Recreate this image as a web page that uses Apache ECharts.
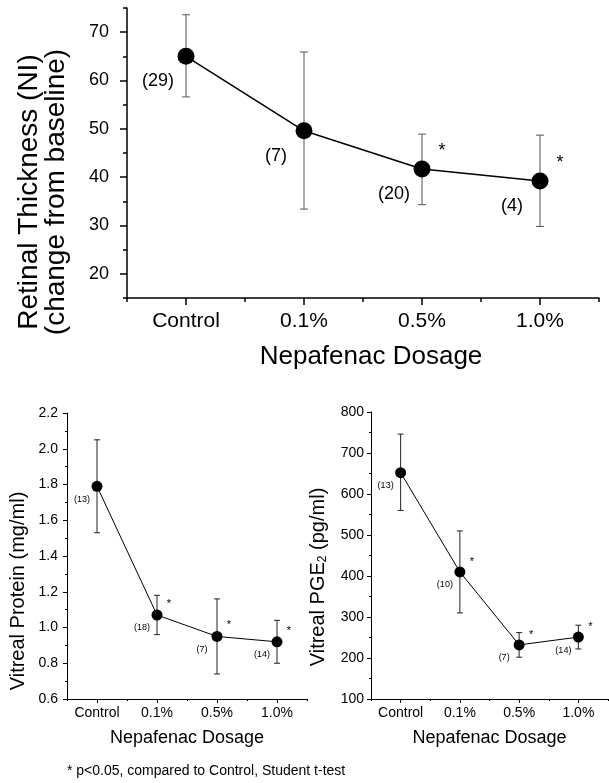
<!DOCTYPE html>
<html>
<head>
<meta charset="utf-8">
<script src="https://cdn.jsdelivr.net/npm/echarts@6/dist/echarts.min.js"></script>
<style>
html, body { margin: 0; padding: 0; background: #fff; }
#chart { width: 609px; height: 783px; }
</style>
</head>
<body>
<div id="chart"></div>
<script>
// categories
var dosages = ['Control', '0.1%', '0.5%', '1.0%']

// retinal thickness (top panel)
var thickMean = [65.0, 49.6, 41.7, 39.2]
var thickHigh = [73.6, 65.9, 48.9, 48.7]
var thickLow = [56.6, 33.4, 34.3, 29.8]
var thickN = [29, 7, 20, 4]
var thickSig = [false, false, true, true]
var thickTicks = [20, 30, 40, 50, 60, 70]

// vitreal protein (bottom left)
var proteinMean = [1.79, 1.07, 0.95, 0.92]
var proteinHigh = [2.05, 1.18, 1.16, 1.04]
var proteinLow = [1.53, 0.96, 0.74, 0.80]
var proteinN = [13, 18, 7, 14]
var proteinSig = [false, true, true, true]

// vitreal PGE2 (bottom right)
var pgeMean = [652, 410, 232, 251]
var pgeHigh = [746, 510, 262, 280]
var pgeLow = [560, 310, 202, 222]
var pgeN = [13, 10, 7, 14]
var pgeSig = [false, true, true, true]

var FONT = 'Liberation Sans, Arial, Helvetica, sans-serif'

var xAxes = [], yAxes = [], series = []

function addPanel(p){ // one panel = grid + 2 x axes + 2 y axes + 3 series
	var xi = xAxes.length, yi = yAxes.length
	xAxes.push({
		type: 'category', gridIndex: p.grid, data: dosages, boundaryGap: true,
		axisLine: { show: true, lineStyle: { color: '#000', width: p.axisW } },
		axisTick: { show: true, alignWithLabel: true, length: p.majorTick, lineStyle: { color: '#000', width: p.axisW } },
		axisLabel: { show: true, color: '#000', fontFamily: FONT, fontSize: p.xFont, margin: p.xMargin },
		splitLine: { show: false },
		name: 'Nepafenac Dosage', nameLocation: 'middle', nameGap: p.nameGap,
		nameTextStyle: { color: '#000', fontFamily: FONT, fontSize: p.nameFont, padding: p.namePad }
	})
	xAxes.push({ // ticks at the category boundaries
		type: 'category', gridIndex: p.grid, data: dosages, boundaryGap: true, position: 'bottom',
		axisLine: { show: false },
		axisTick: { show: true, length: p.minorTick, lineStyle: { color: '#000', width: p.axisW } },
		axisLabel: { show: false },
		splitLine: { show: false }
	})
	var yMain = {
		type: 'value', gridIndex: p.grid, min: p.min, max: p.max, interval: p.interval,
		splitLine: { show: false },
		axisLine: { show: true, lineStyle: { color: '#000', width: p.axisW } },
		axisTick: { show: true, length: p.majorTick, lineStyle: { color: '#000', width: p.axisW } },
		axisLabel: { color: '#000', fontFamily: FONT, fontSize: p.yFont, margin: p.yMargin, formatter: p.yFmt },
		minorTick: { show: true, splitNumber: 2, length: p.minorTick, lineStyle: { color: '#000', width: p.axisW } }
	}
	if(p.ticks){
		yMain.axisTick.customValues = p.ticks
		yMain.axisLabel.customValues = p.ticks
		yMain.minorTick = { show: false }
	}
	yAxes.push(yMain)
	yAxes.push({ // minor ticks for the top panel
		type: 'value', gridIndex: p.grid, min: p.min, max: p.max, interval: p.interval,
		position: 'left', splitLine: { show: false },
		axisLine: { show: false }, axisLabel: { show: false },
		axisTick: { show: !!p.ticks, length: p.minorTick, lineStyle: { color: '#000', width: p.axisW } }
	})

	// error bars
	series.push({
		type: 'custom', xAxisIndex: xi, yAxisIndex: yi, z: 1,
		data: dosages.map(function(d, i){ return [i, p.low[i], p.high[i]] }),
		renderItem: function(params, api){
			var x = api.value(0)
			var lo = api.coord([x, api.value(1)])
			var hi = api.coord([x, api.value(2)])
			var st = { stroke: p.errColor, lineWidth: 1 }
			return {
				type: 'group',
				children: [
					{ type: 'line', shape: { x1: lo[0], y1: lo[1], x2: hi[0], y2: hi[1] }, style: st },
					{ type: 'line', shape: { x1: hi[0] - p.cap, y1: hi[1], x2: hi[0] + p.cap, y2: hi[1] }, style: st },
					{ type: 'line', shape: { x1: lo[0] - p.cap, y1: lo[1], x2: lo[0] + p.cap, y2: lo[1] }, style: st }
				]
			}
		}
	})
	// means + n labels
	series.push({
		type: 'line', xAxisIndex: xi, yAxisIndex: yi, z: 3,
		data: p.mean, symbol: 'circle', symbolSize: p.dot,
		itemStyle: { color: '#000' },
		lineStyle: { color: '#000', width: p.lineW },
		label: {
			show: true, position: 'inside', offset: p.nOff,
			color: '#000', fontFamily: FONT, fontSize: p.nFont,
			formatter: function(params){ return '(' + p.n[params.dataIndex] + ')' }
		}
	})
	// significance stars
	series.push({
		type: 'custom', xAxisIndex: xi, yAxisIndex: yi, z: 4,
		data: p.mean.map(function(v, i){ return [i, v, p.sig[i] ? 1 : 0] }),
		renderItem: function(params, api){
			if(!api.value(2)) return
			var pt = api.coord([api.value(0), api.value(1)])
			return {
				type: 'text',
				x: pt[0] + p.sOff[0], y: pt[1] + p.sOff[1],
				style: {
					text: '*', fill: '#000', font: p.sFont + 'px ' + FONT,
					textAlign: 'center', textVerticalAlign: 'middle', align: 'center', verticalAlign: 'middle'
				}
			}
		}
	})
}

addPanel({
	grid: 0, min: 15, max: 75, interval: 5, ticks: thickTicks,
	mean: thickMean, high: thickHigh, low: thickLow, n: thickN, sig: thickSig,
	axisW: 1.5, majorTick: 7, minorTick: 4, xFont: 21, yFont: 18, xMargin: 13, yMargin: 18,
	nameGap: 46, nameFont: 26, namePad: [0, 0, 0, 16],
	yFmt: function(v){ return v },
	errColor: '#555', cap: 4, dot: 17, lineW: 1.5,
	nOff: [-28, 25], nFont: 18, sOff: [20, -18], sFont: 18
})
addPanel({
	grid: 1, min: 0.6, max: 2.2, interval: 0.2,
	mean: proteinMean, high: proteinHigh, low: proteinLow, n: proteinN, sig: proteinSig,
	axisW: 1, majorTick: 4, minorTick: 2, xFont: 14, yFont: 14, xMargin: 7, yMargin: 9,
	nameGap: 30, nameFont: 18, namePad: 0,
	yFmt: function(v){ return v.toFixed(1) },
	errColor: '#222', cap: 3, dot: 11, lineW: 1,
	nOff: [-15, 13], nFont: 9, sOff: [12, -11], sFont: 11
})
addPanel({
	grid: 2, min: 100, max: 800, interval: 100,
	mean: pgeMean, high: pgeHigh, low: pgeLow, n: pgeN, sig: pgeSig,
	axisW: 1, majorTick: 4, minorTick: 2, xFont: 14, yFont: 14, xMargin: 7, yMargin: 7,
	nameGap: 30, nameFont: 18, namePad: 0,
	yFmt: function(v){ return v },
	errColor: '#222', cap: 3, dot: 11, lineW: 1,
	nOff: [-15, 13], nFont: 9, sOff: [12, -10], sFont: 11
})

var option = {
	animation: false,
	backgroundColor: '#fff',
	grid: [
		{ left: 127, right: 10, top: 8, bottom: 485 },
		{ left: 67, right: 302, top: 413, bottom: 84 },
		{ left: 371, right: 1, top: 412, bottom: 84 }
	],
	xAxis: xAxes,
	yAxis: yAxes,
	series: series,
	graphic: [
		{
			type: 'text', x: 43, y: 192, rotation: Math.PI / 2,
			style: {
				text: 'Retinal Thickness (NI)\n(change from baseline)',
				font: '28px ' + FONT, fill: '#000', lineHeight: 27,
				textAlign: 'center', textVerticalAlign: 'middle', align: 'center', verticalAlign: 'middle'
			}
		},
		{
			type: 'text', x: 18, y: 591, rotation: Math.PI / 2,
			style: {
				text: 'Vitreal Protein (mg/ml)',
				font: '20px ' + FONT, fill: '#000',
				textAlign: 'center', textVerticalAlign: 'middle', align: 'center', verticalAlign: 'middle'
			}
		},
		{
			type: 'text', x: 318, y: 577, rotation: Math.PI / 2,
			style: {
				text: 'Vitreal PGE{sub|2} (pg/ml)',
				font: '20px ' + FONT, fill: '#000',
				rich: { sub: { fontSize: 12, fontFamily: FONT, fill: '#000', padding: [10, 0, 0, 0] } },
				textAlign: 'center', textVerticalAlign: 'middle', align: 'center', verticalAlign: 'middle'
			}
		},
		{
			type: 'text', x: 67, y: 771,
			style: {
				text: '* p<0.05, compared to Control, Student t-test',
				font: '14px ' + FONT, fill: '#000',
				textAlign: 'left', textVerticalAlign: 'middle', align: 'left', verticalAlign: 'middle'
			}
		}
	]
}

var myChart = echarts.init(document.getElementById('chart'))
myChart.setOption(option)
</script>
</body>
</html>
